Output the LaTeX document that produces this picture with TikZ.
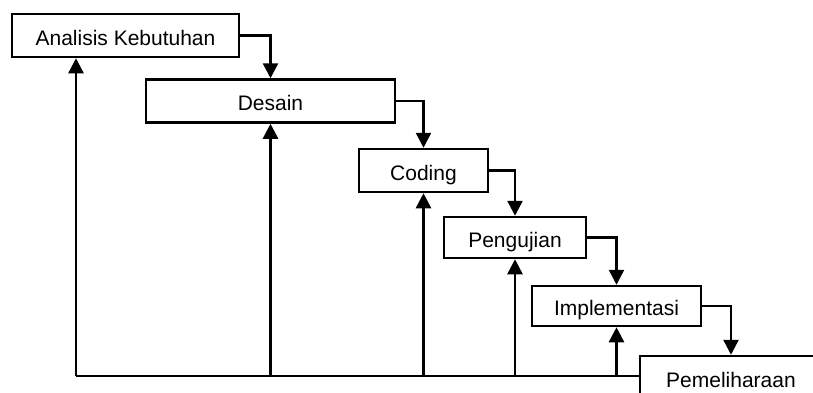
\documentclass[tikz,border=0pt]{standalone}
\usepackage{fontspec}
\setmainfont{Liberation Sans}
\usetikzlibrary{arrows.meta}
\begin{document}
\begin{tikzpicture}[x=1pt,y=-1pt,
  stage/.style={draw=black, line width=2.5pt, fill=white, inner sep=0pt,
    text height=19pt, text depth=0pt, minimum height=43pt,
    font=\fontsize{21}{25}\selectfont},
  flow/.style={draw=black, line width=2.5pt, -{Triangle[width=15pt,length=15pt]}},
  fback/.style={draw=black, line width=2.5pt}]
\useasboundingbox (0,0) rectangle (813,392);
\clip (0,0) rectangle (813,392);
\fill[white] (0,0) rectangle (813,392);
\node[stage, minimum width=227pt] (b1) at (125.5,35.5) {Analisis Kebutuhan};
\node[stage, minimum width=249pt] (b2) at (270.5,101) {Desain};
\node[stage, minimum width=129pt] (b3) at (423.5,170.5) {Coding};
\node[stage, minimum width=142pt, minimum height=41pt] (b4) at (515,237.5) {Pengujian};
\node[stage, minimum width=169pt, minimum height=40pt] (b5) at (616.5,306) {Implementasi};
\node[stage, minimum width=182pt] (b6) at (731,377.5) {Pemeliharaan};
% forward arrows
\draw[flow] (b1.east) -| (b2.north);
\draw[flow] (b2.east) -| (b3.north);
\draw[flow] (b3.east) -| (b4.north);
\draw[flow] (b4.east) -| (b5.north);
\draw[flow] (b5.east) -| (b6.north);
% feedback
\coordinate (fb) at (76,376);
\draw[fback] (fb) -- (fb -| b6.west);
\draw[flow] (fb) -- (fb |- b1.south);
\draw[flow] (fb -| b2.south) -- (b2.south);
\draw[flow] (fb -| b3.south) -- (b3.south);
\draw[flow] (fb -| b4.south) -- (b4.south);
\draw[flow] (fb -| b5.south) -- (b5.south);
\end{tikzpicture}
\end{document}
